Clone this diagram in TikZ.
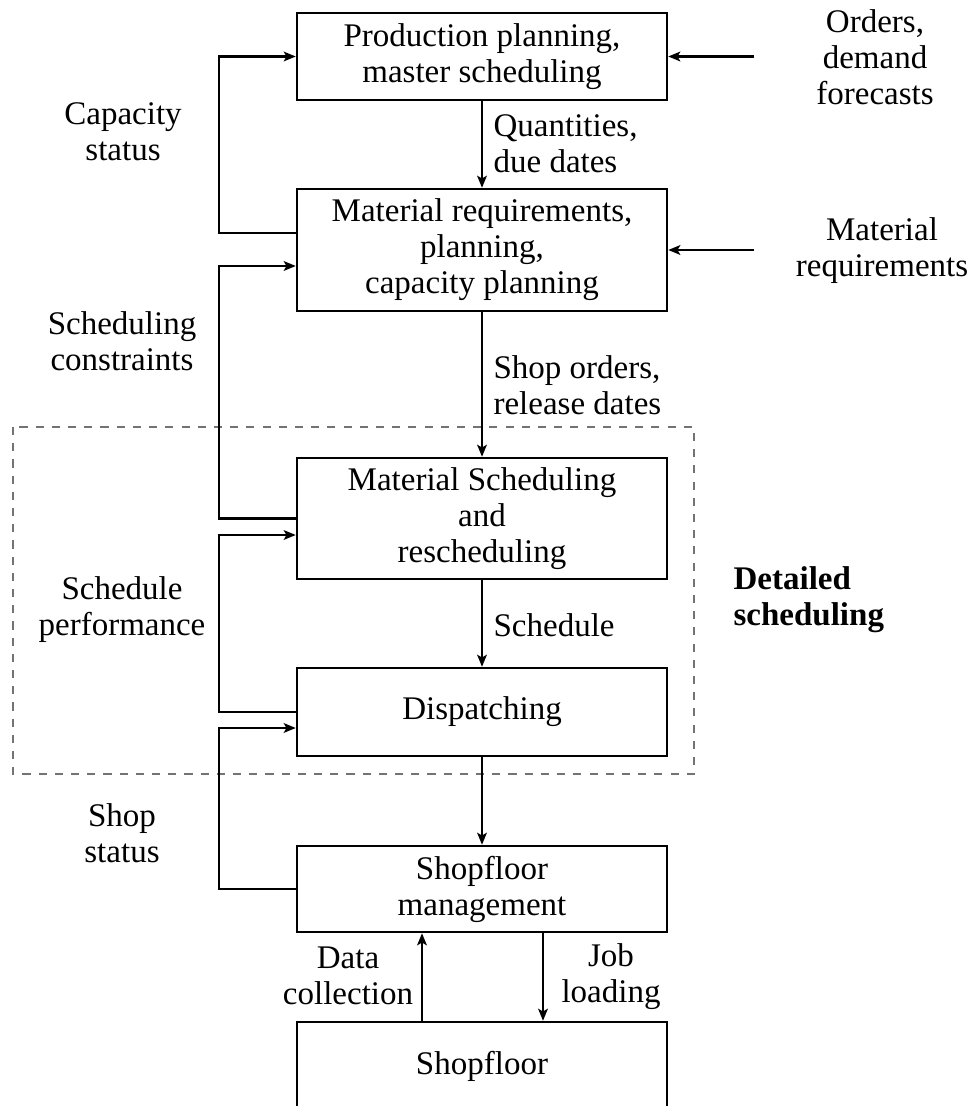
\documentclass[tikz,border=0pt]{standalone}
\usepackage{fontspec}
\setmainfont{Liberation Serif}
\usetikzlibrary{arrows.meta}

\newcommand{\labelfont}{\fontsize{11}{12}\selectfont}

\tikzset{
  stage/.style={draw, line width=0.8pt, minimum width=123.33pt, inner sep=0pt,
                align=center, font=\labelfont},
  flow/.style={line width=0.8pt, -{Stealth[length=4pt,width=3.2pt,inset=0.9pt]}},
  lbl/.style={align=center, inner sep=0pt, font=\labelfont},
  lblw/.style={align=left, anchor=west, inner sep=0pt, font=\labelfont},
  region/.style={draw=black!55, line width=0.5pt, dash pattern=on 2.7pt off 2.7pt},
}

\begin{document}
\begin{tikzpicture}[x=0.3333pt, y=-0.3333pt]
  \useasboundingbox (0,0) rectangle (971,1106);
  \clip (0,0) rectangle (971,1106);

  % detailed scheduling region
  \draw[region] (13,427) rectangle (694,774);

  % planning stages
  \node[stage, minimum height=29pt]    (plan)  at (482,56.5)  {Production planning,\\master scheduling};
  \node[stage, minimum height=40.67pt] (mrp)   at (482,250)   {Material requirements,\\planning,\\capacity planning};
  \node[stage, minimum height=40.33pt] (sched) at (482,518.5) {Material Scheduling\\and\\rescheduling};
  \node[stage, minimum height=29.33pt] (disp)  at (482,712)   {Dispatching};
  \node[stage, minimum height=28.67pt] (sfm)   at (482,889)   {Shopfloor\\management};
  \node[stage, minimum height=29.33pt] (shop)  at (482,1066)  {Shopfloor};

  % external inputs
  \node[lbl] (orders) at (875,57)  {Orders,\\demand\\forecasts};
  \node[lbl] (matreq) at (882,251) {Material\\requirements};
  \coordinate (in1) at (754,56.5);
  \coordinate (in2) at (754,250);
  \draw[flow] (in1) -- (plan.east);
  \draw[flow] (in2) -- (mrp.east);

  % downward flow
  \draw[flow] (plan.south) -- (mrp.north);
  \draw[flow] (mrp.south) -- (sched.north);
  \draw[flow] (sched.south) -- (disp.north);
  \draw[flow] (disp.south) -- (sfm.north);
  \draw[flow] ([xshift=20.33pt]sfm.south) -- ([xshift=20.33pt]shop.north);
  \draw[flow] ([xshift=-20pt]shop.north) -- ([xshift=-20pt]sfm.south);

  \node[lblw] (qty)  at (493,144) {Quantities,\\due dates};
  \node[lblw] (so)   at (493,385) {Shop orders,\\release dates};
  \node[lblw] (sch)  at (493,625) {Schedule};
  \node[lbl]  (dc)   at (348,976) {Data\\collection};
  \node[lbl]  (jl)   at (611,977) {Job\\loading};

  % feedback loops
  \draw[flow] ([yshift=5.67pt]mrp.west) -- ++(-77,0) |- (plan.west);
  \draw[flow] (sched.west) -- ++(-77,0) |- ([yshift=-5.33pt]mrp.west);
  \draw[flow] (disp.west) -- ++(-77,0) |- ([yshift=-5.5pt]sched.west);
  \draw[flow] (sfm.west) -- ++(-77,0) |- ([yshift=-5.33pt]disp.west);

  \node[lbl] (cap)  at (123,132) {Capacity\\status};
  \node[lbl] (scon) at (122,341) {Scheduling\\constraints};
  \node[lbl] (sper) at (122,610) {Schedule\\performance};
  \node[lbl] (sst)  at (122,833) {Shop\\status};

  \node[lblw, font=\labelfont\bfseries] (det) at (733,600) {Detailed\\scheduling};
\end{tikzpicture}
\end{document}
